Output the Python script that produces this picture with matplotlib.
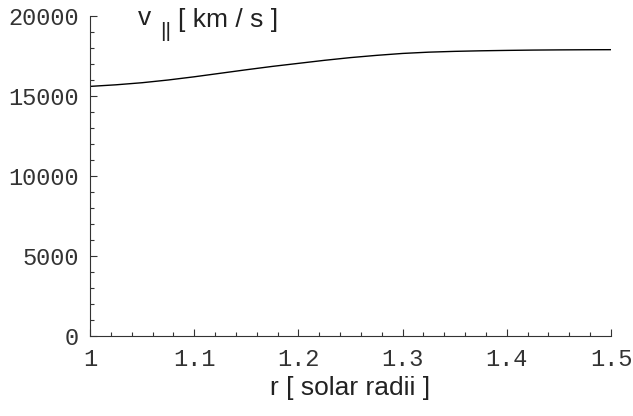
import numpy as np
import matplotlib
matplotlib.use('Agg')
import matplotlib.pyplot as plt
from matplotlib.ticker import MultipleLocator

# values
r = [1.000, 1.025, 1.050, 1.075, 1.100, 1.125, 1.150, 1.175, 1.200, 1.225, 1.250,
     1.275, 1.300, 1.325, 1.350, 1.375, 1.400, 1.425, 1.450, 1.475, 1.500]
v_par = [15600, 15700, 15830, 16000, 16200, 16420, 16640, 16850, 17040, 17230, 17400,
         17540, 17660, 17740, 17790, 17825, 17850, 17870, 17882, 17890, 17895]

x_ticks = [1.0, 1.1, 1.2, 1.3, 1.4, 1.5]
x_tick_labels = ['1', '1.1', '1.2', '1.3', '1.4', '1.5']
y_ticks = [0, 5000, 10000, 15000, 20000]

W, H = 633, 416
fig = plt.figure(figsize=(W / 100, H / 100), dpi=100)
ax = fig.add_axes([90 / W, 80 / H, 521 / W, 320 / H])

ax.plot(r, v_par, color='black', linewidth=1.0)

ax.set_xlim(1.0, 1.5)
ax.set_ylim(0, 20000)
ax.spines['top'].set_visible(False)
ax.spines['right'].set_visible(False)
for s in ['left', 'bottom']:
    ax.spines[s].set_linewidth(0.8)
    ax.spines[s].set_color('#333333')

ax.set_xticks(x_ticks)
ax.set_xticklabels(x_tick_labels)
ax.set_yticks(y_ticks)
ax.xaxis.set_minor_locator(MultipleLocator(0.02))
ax.yaxis.set_minor_locator(MultipleLocator(1000))
ax.tick_params(which='both', direction='in', color='#333333', width=0.8)
ax.tick_params(which='major', length=5)
ax.tick_params(which='minor', length=3)
ax.tick_params(axis='x', pad=9)
ax.tick_params(axis='y', pad=8)
for lab in ax.get_xticklabels() + ax.get_yticklabels():
    lab.set_fontfamily('Liberation Mono')
    lab.set_fontsize(17)
    lab.set_color('#333333')

ax.set_xlabel('r [ solar radii ]', fontfamily='Liberation Sans', fontsize=19,
              color='#222222', labelpad=3)

# y label: v with a lowered "||" subscript, then the unit
lab_kw = dict(fontfamily='Liberation Sans', color='#222222', ha='left', va='baseline')
fig.text(138 / W, (H - 25) / H, 'v', fontsize=19, **lab_kw)
fig.text(160 / W, (H - 37) / H, '||', fontsize=15, **lab_kw)
fig.text(178 / W, (H - 27) / H, '[ km / s ]', fontsize=19, **lab_kw)

fig.savefig('out.png', dpi=100)
